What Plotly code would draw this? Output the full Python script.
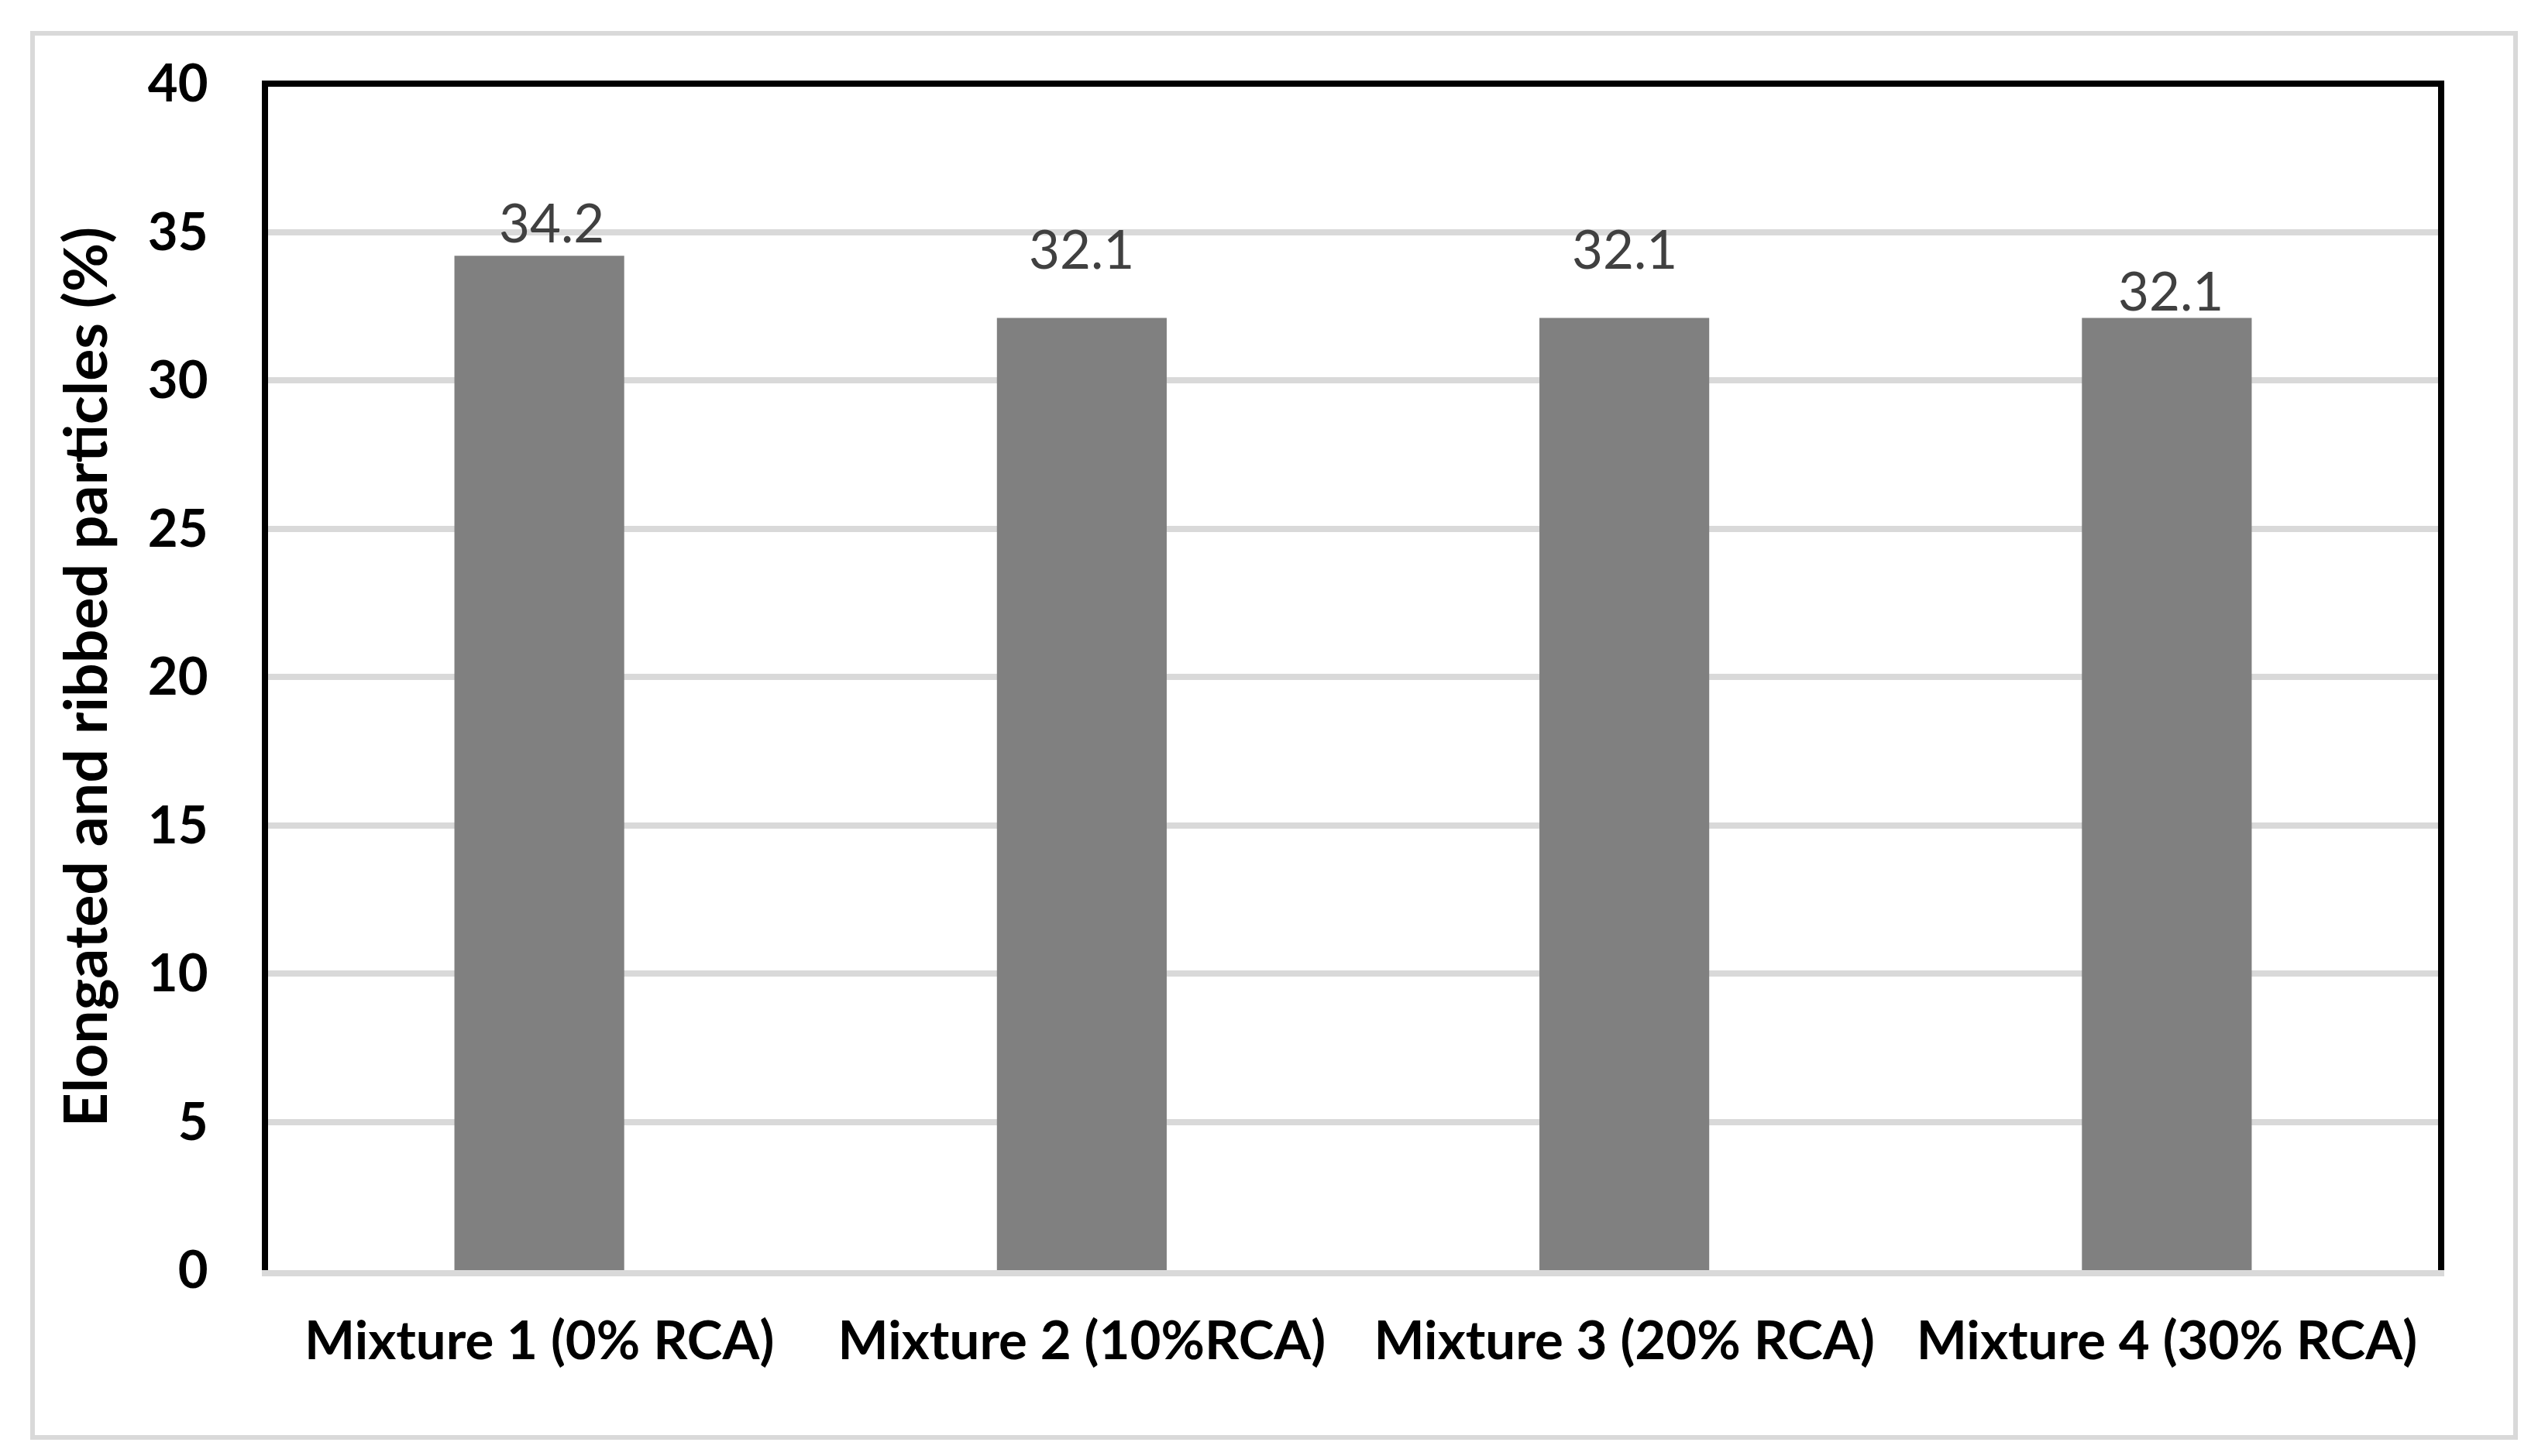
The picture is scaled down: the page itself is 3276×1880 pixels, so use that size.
import plotly.graph_objects as go

# ---- data ----
categories = ["Mixture 1 (0% RCA)", "Mixture 2 (10%RCA)", "Mixture 3 (20% RCA)", "Mixture 4 (30% RCA)"]
values = [34.2, 32.1, 32.1, 32.1]
value_labels = ["34.2", "32.1", "32.1", "32.1"]
y_title = "Elongated and ribbed particles (%)"

# ---- label placement (manually placed labels in the original) ----
label_dy = [1.15, 2.35, 2.35, 0.95]  # data units above bar top
label_dx = [16, 0, 0, 5]             # px shift

W, H = 3276, 1880
L, R, T, B = 338, 137, 100, 248
pw, ph = W - L - R, H - T - B

def px_x(x):
    return (x - L) / pw

def px_y(y):
    return (H - B - y) / ph

FONT = "Lato"

fig = go.Figure()
fig.add_trace(go.Bar(
    x=categories, y=values, width=0.313,
    marker=dict(color="#808080", line=dict(width=0)),
    hoverinfo="x+y", showlegend=False,
))

for c, v, t, dy, dx in zip(categories, values, value_labels, label_dy, label_dx):
    fig.add_annotation(x=c, y=v + dy, text=t, showarrow=False, xshift=dx,
                       xanchor="center", yanchor="middle",
                       font=dict(family=FONT, size=69, color="#404040"))

# outer light-gray frame
fig.add_shape(type="rect", xref="paper", yref="paper",
              x0=px_x(34), x1=px_x(3239), y0=px_y(1848), y1=px_y(35),
              line=dict(color="#d9d9d9", width=6), fillcolor="rgba(0,0,0,0)", layer="below")
# top black border of plot area
fig.add_shape(type="line", xref="paper", yref="paper",
              x0=px_x(330), x1=px_x(3147), y0=1, y1=1,
              line=dict(color="black", width=8), layer="above")

fig.update_layout(
    width=W, height=H,
    margin=dict(l=L, r=R, t=T, b=B, pad=0),
    paper_bgcolor="white", plot_bgcolor="white",
    font=dict(family=FONT, color="black"),
    bargap=0.687,
    xaxis=dict(
        showline=True, linecolor="#d9d9d9", linewidth=8,
        showgrid=False, ticks="", zeroline=False,
        tickfont=dict(family=FONT, size=69, color="black", weight="bold"),
        ticklabelstandoff=24,
    ),
    yaxis=dict(
        range=[0, 40], dtick=5, tick0=0,
        showgrid=True, gridcolor="#d9d9d9", gridwidth=8,
        showline=True, linecolor="black", linewidth=8, mirror=True,
        zeroline=False, ticks="",
        tickfont=dict(family=FONT, size=67, color="black", weight="bold"),
        ticklabelstandoff=56,
        title=dict(text=y_title, standoff=30,
                   font=dict(family=FONT, size=77, color="black", weight="bold")),
    ),
)

fig.write_html("out.html")
